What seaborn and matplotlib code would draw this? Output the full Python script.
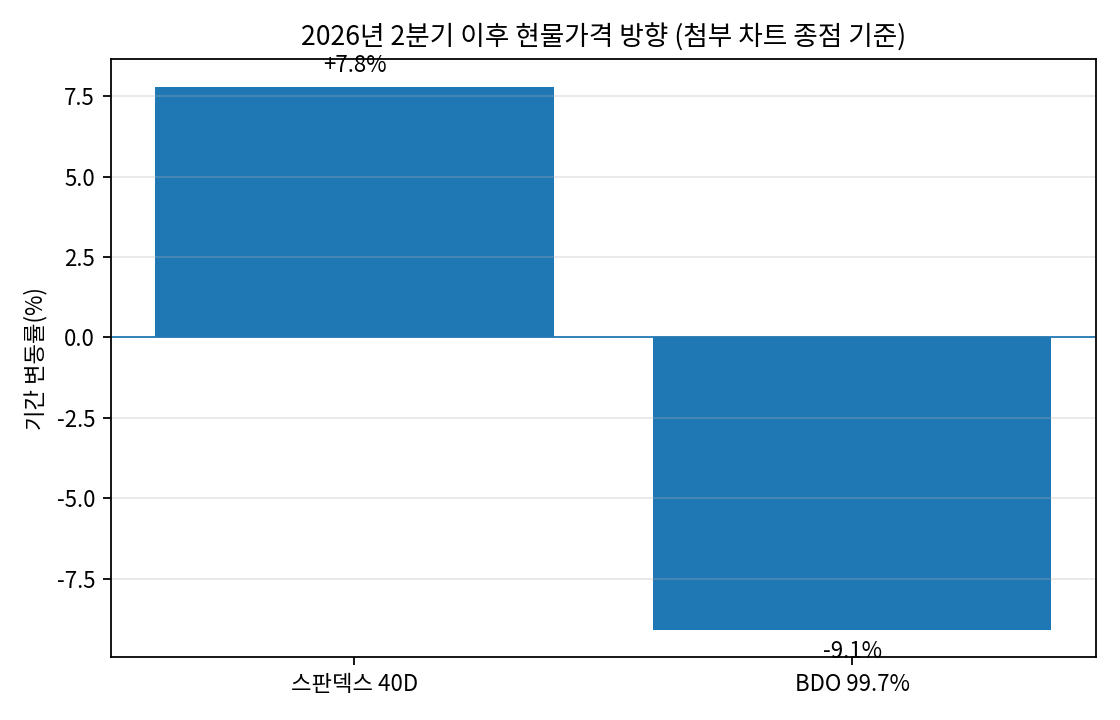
import matplotlib
matplotlib.use("Agg")
import matplotlib.pyplot as plt
import pandas as pd
import seaborn as sns

plt.rcParams['font.family'] = ['Noto Sans CJK KR', 'DejaVu Sans']
plt.rcParams['axes.unicode_minus'] = False

products = ["스판덱스 40D", "BDO 99.7%"]
changes = [7.8, -9.1]

df = pd.DataFrame({"product": products, "change": changes})

fig, ax = plt.subplots(figsize=(7, 4.5), dpi=160)
sns.barplot(data=df, x="product", y="change", color="#1f77b4",
            saturation=1, errorbar=None, width=0.8, ax=ax)
ax.axhline(0, color="#1f77b4", linewidth=0.8)
ax.set_xlim(-0.49, 1.49)
ax.margins(y=0.05)

for i, v in enumerate(df["change"]):
    off = 0.3 if v >= 0 else -0.3
    ax.text(i, v + off, f"{v:+.1f}%", ha="center",
            va="bottom" if v >= 0 else "top", fontsize=10)

ax.grid(axis="y", alpha=0.3)
ax.set_xlabel("")
ax.set_ylabel("기간 변동률(%)")
ax.set_title("2026년 2분기 이후 현물가격 방향 (첨부 차트 종점 기준)")
plt.tight_layout()
plt.savefig("out.png")
